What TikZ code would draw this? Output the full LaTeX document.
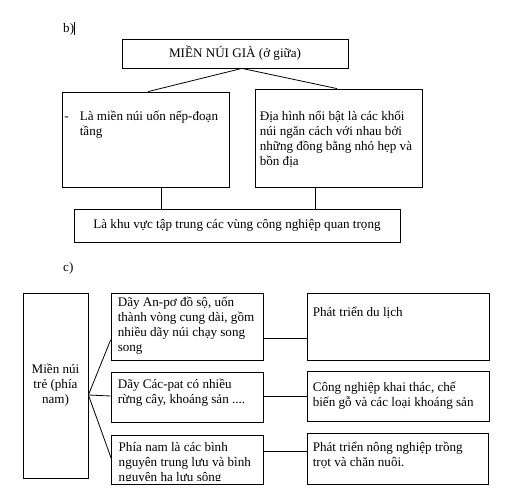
\documentclass[tikz,border=0pt]{standalone}
\usepackage{fontspec}
\setmainfont{Liberation Serif}
\usetikzlibrary{positioning,calc}
\newcommand{\lines}[1]{\begin{tabular}[t]{@{}l@{}}#1\end{tabular}}
\begin{document}
\begin{tikzpicture}[x=1pt,y=-1pt,
    box/.style={draw, line width=0.8pt, inner sep=0pt, align=center, font=\fontsize{13.1}{15}\selectfont},
    txt/.style={inner sep=0pt, font=\fontsize{13.1}{15}\selectfont},
    link/.style={line width=0.8pt}]
    \useasboundingbox[fill=white] (0,0) rectangle (512,501);
    % b)
    \node[txt, anchor=base west] (lb) at (63,32) {b)};
    \draw[line width=0.8pt] (74.5,22) -- (74.5,35);
    \node[box, minimum width=226pt, minimum height=29pt] (gia) at (235,53.5) {MIỀN NÚI GIÀ (ở giữa)};
    \node[box, minimum width=167pt, minimum height=95pt] (lft) at (145.5,139.5) {};
    \node[box, minimum width=167pt, minimum height=98pt] (rgt) at (338.5,138) {};
    \node[box, minimum width=326pt, minimum height=33pt] (bot) at (237,225.5) {Là khu vực tập trung các vùng công nghiệp quan trọng};
    \node[txt, anchor=base west] (lftt) at ([shift={(2.5pt,-28.5pt)}]lft.north west) {\lines{\makebox[15.5pt][l]{-}Là miền núi uốn nếp-đoạn\\\hspace*{15.5pt}tầng}};
    \node[txt, anchor=base west] (rgtt) at ([shift={(5pt,-31.5pt)}]rgt.north west) {\lines{Địa hình nổi bật là các khối\\núi ngăn cách với nhau bởi\\những đồng bằng nhỏ hẹp và\\bồn địa}};
    \draw[link] ([xshift=7pt]gia.south) -- ([xshift=2.5pt]lft.north);
    \draw[link] ([xshift=7pt]gia.south) -- ([xshift=-1.5pt]rgt.north);
    \draw[link] ([xshift=15.5pt]lft.south) -- ([xshift=15.5pt]lft.south |- bot.north);
    \draw[link] ([xshift=-23.5pt]rgt.south) -- ([xshift=-23.5pt]rgt.south |- bot.north);
    % c)
    \node[txt, anchor=base west] (lc) at (63,271) {c)};
    \node[box, minimum width=65pt, minimum height=185pt] (tre) at (55.5,385.5) {Miền núi\\trẻ (phía\\nam)};
    \node[box, minimum width=152pt, minimum height=67pt] (m1) at (187,326.5) {};
    \node[box, minimum width=152pt, minimum height=50pt] (m2) at (187,397) {};
    \begin{scope}
        % last line is cut off by the box
        \clip (111.5,435) rectangle (263.5,480.5);
        \node[txt, anchor=base west] (m3t) at (118.5,451.5) {\lines{Phía nam là các bình\\nguyên trung lưu và bình\\nguyên hạ lưu sông}};
    \end{scope}
    \node[box, minimum width=152pt, minimum height=49pt] (m3) at (187.5,459.5) {};
    \node[box, minimum width=182pt, minimum height=67pt] (r1) at (398,326.5) {};
    \node[box, minimum width=182pt, minimum height=50pt] (r2) at (398,396) {};
    \node[box, minimum width=181pt, minimum height=51pt] (r3) at (397.5,458.5) {};
    \node[txt, anchor=base west] (m1t) at ([shift={(7pt,-13.5pt)}]m1.north west) {\lines{Dãy An-pơ đồ sộ, uốn\\thành vòng cung dài, gồm\\nhiều dãy núi chạy song\\song}};
    \node[txt, anchor=base west] (m2t) at ([shift={(7pt,-16.5pt)}]m2.north west) {\lines{Dãy Các-pat có nhiều\\rừng cây, khoáng sản ....}};
    \node[txt, anchor=base west] (r1t) at ([shift={(6pt,-23.5pt)}]r1.north west) {Phát triển du lịch};
    \node[txt, anchor=base west] (r2t) at ([shift={(6pt,-20.5pt)}]r2.north west) {\lines{Công nghiệp khai thác, chế\\biến gỗ và các loại khoáng sản}};
    \node[txt, anchor=base west] (r3t) at ([shift={(6pt,-18.5pt)}]r3.north west) {\lines{Phát triển nông nghiệp trồng\\trọt và chăn nuôi.}};
    \draw[link] ([yshift=-9.5pt]tre.east) -- ([yshift=-13.5pt]m1.west);
    \draw[link] ([yshift=-9.5pt]tre.east) -- ([yshift=1pt]m2.west);
    \draw[link] ([yshift=-9.5pt]tre.east) -- ([yshift=1.5pt]m3.west);
    \draw[link] ([yshift=-11.5pt]m1.east) -- ([yshift=-11.5pt]m1.east -| r1.west);
    \draw[link] ([yshift=1pt]m2.east) -- ([yshift=1pt]m2.east -| r2.west);
    \draw[link] ([yshift=8.5pt]m3.east) -- ([yshift=8.5pt]m3.east -| r3.west);
\end{tikzpicture}
\end{document}
